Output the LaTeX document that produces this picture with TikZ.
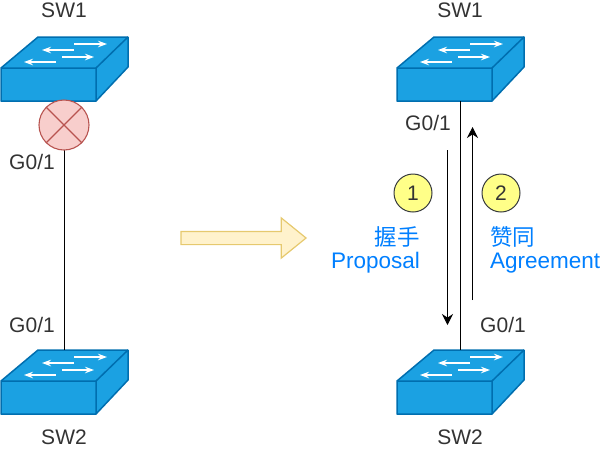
\documentclass[tikz,border=0pt]{standalone}
\usepackage{fontspec}
\setmainfont{Liberation Sans}
\newfontfamily\cjk{Noto Sans CJK SC}
\usetikzlibrary{arrows.meta, positioning, shapes.arrows}
\definecolor{swfill}{HTML}{1BA1E2}
\definecolor{swline}{HTML}{006EAF}
\definecolor{txtblue}{HTML}{007FFF}
\definecolor{txtgray}{HTML}{333333}
\definecolor{blockfill}{HTML}{F8CECC}
\definecolor{blockline}{HTML}{B85450}
\definecolor{turnfill}{HTML}{FFF2CC}
\definecolor{turnline}{HTML}{E6C96E}
\definecolor{markfill}{HTML}{FFFF88}
\definecolor{markline}{HTML}{36393D}
\tikzset{
  swarrow/.style={white, line width=1.1pt, -{Stealth[length=9pt,width=6.5pt]}},
  pics/switchbox/.style={code={
    \draw[swline, fill=swfill, line width=1.5pt, line join=round]
      (0,0) -- (37,-31) -- (127,-31) -- (127,-1) -- (95,33) -- (0,33) -- cycle;
    \draw[swline, line width=1.5pt, line join=round] (0,0) -- (95,0) -- (127,-31) (95,0) -- (95,33);
    \draw[swarrow] (73,-24) -- (106,-24);
    \draw[swarrow] (73,-18) -- (41,-18);
    \draw[swarrow] (61,-11) -- (93,-11);
    \draw[swarrow] (55,-6) -- (23,-6);
    \coordinate (-back) at (63.5,-31);
    \coordinate (-front) at (63.5,33);
  }},
  label/.style={font=\fontsize{21}{21}\selectfont, text=txtgray, inner sep=0pt},
  bluelabel/.style={font=\fontsize{22.5}{22.5}\selectfont, text=txtblue, inner sep=0pt},
  stepmark/.style={circle, draw=markline, fill=markfill, line width=1pt,
    minimum size=38pt, inner sep=0pt, text=txtgray, font=\fontsize{21}{21}\selectfont},
  msg/.style={black, line width=1pt, -{Stealth[length=11pt,width=11pt]}}
}
\begin{document}
\begin{tikzpicture}[x=1pt,y=-1pt]
  \useasboundingbox (0,0) rectangle (608,451);
  % left pair
  \pic (swa) at (1,68) {switchbox};
  \pic (swb) at (1,381) {switchbox};
  \draw[black, line width=1pt] (swa-front) -- (swb-back);
  \node[circle, draw=blockline, fill=blockfill, line width=1.1pt, minimum size=50pt,
    inner sep=0pt] (block) at (64,125) {};
  \draw[blockline, line width=1.1pt] (block.north west) -- (block.south east)
    (block.north east) -- (block.south west);
  \node[label] (swaname) at (64,10) {SW1};
  \node[label] (swbname) at (64,437) {SW2};
  \node[label] (porta) at (32,162) {G0/1};
  \node[label] (portb) at (32,325) {G0/1};
  % big arrow
  \node[single arrow, draw=turnline, fill=turnfill, line width=1.2pt,
    minimum height=125pt, inner xsep=0pt, inner ysep=6pt, single arrow head extend=13.5pt,
    single arrow tip angle=78] (turn) at (239.5,238) {};
  % right pair
  \pic (swc) at (397,68) {switchbox};
  \pic (swd) at (397,381) {switchbox};
  \draw[black, line width=1pt] (swc-front) -- (swd-back);
  \node[label] (swcname) at (460,10) {SW1};
  \node[label] (swdname) at (460,437) {SW2};
  \node[label] (portc) at (428,123) {G0/1};
  \node[label] (portd) at (503,325) {G0/1};
  \coordinate (downa) at (447.5,150);
  \coordinate (downb) at (447.5,325);
  \coordinate (upa) at (472.5,300);
  \coordinate (upb) at (472.5,127);
  \draw[msg] (downa) -- (downb);
  \draw[msg] (upa) -- (upb);
  \node[stepmark] (one) at (413,193) {1};
  \node[stepmark] (two) at (501,193) {2};
  \node[bluelabel, anchor=east] (wo) at (420,237) {\cjk 握手};
  \node[bluelabel, anchor=east] (prop) at (420,263) {Proposal};
  \node[bluelabel, anchor=west] (zan) at (490,237) {\cjk 赞同};
  \node[bluelabel, anchor=west] (agree) at (490,263) {Agreement};
\end{tikzpicture}
\end{document}
